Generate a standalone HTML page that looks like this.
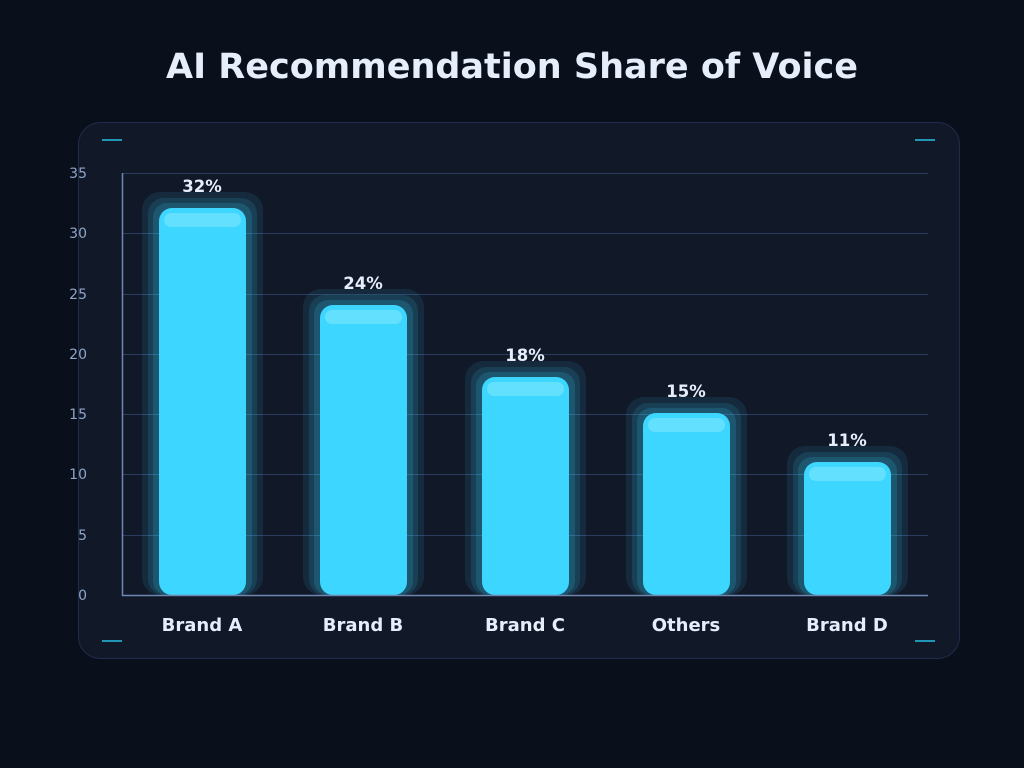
<!DOCTYPE html>
<html><head><meta charset="utf-8"><style>
html,body{margin:0;padding:0;background:#0a0f1c;}
svg{display:block;font-family:"DejaVu Sans","Liberation Sans",sans-serif;}
</style></head><body>
<svg width="1024" height="768" viewBox="0 0 1024 768" xmlns="http://www.w3.org/2000/svg">
<rect width="1024" height="768" fill="#0a0f1c"/>
<text x="512" y="78" text-anchor="middle" font-size="35" font-weight="bold" fill="#e6eefc">AI Recommendation Share of Voice</text>
<rect x="78.5" y="122.5" width="881" height="536" rx="22" fill="#111828" stroke="#1f2d4a" stroke-width="1"/>
<g stroke="#2096b4" stroke-width="2">
<line x1="102" y1="140" x2="122" y2="140"/><line x1="915" y1="140" x2="935" y2="140"/>
<line x1="102" y1="641" x2="122" y2="641"/><line x1="915" y1="641" x2="935" y2="641"/>
</g>
<g stroke="#2a3d5e" stroke-width="1">
<line x1="122" y1="173.5" x2="928" y2="173.5"/>
<line x1="122" y1="233.5" x2="928" y2="233.5"/>
<line x1="122" y1="294.5" x2="928" y2="294.5"/>
<line x1="122" y1="354.5" x2="928" y2="354.5"/>
<line x1="122" y1="414.5" x2="928" y2="414.5"/>
<line x1="122" y1="474.5" x2="928" y2="474.5"/>
<line x1="122" y1="535.5" x2="928" y2="535.5"/>
</g>
<g font-size="14" fill="#8fa6c8" text-anchor="end">
<text x="87" y="178">35</text><text x="87" y="238">30</text><text x="87" y="299">25</text>
<text x="87" y="359">20</text><text x="87" y="419">15</text><text x="87" y="479">10</text>
<text x="87" y="540">5</text><text x="87" y="600">0</text>
</g>
<g fill="#3ad6ff">
<rect x="142" y="192" width="121" height="403" rx="18" fill-opacity="0.10"/>
<rect x="148" y="198" width="109" height="397" rx="16" fill-opacity="0.12"/>
<rect x="153" y="203" width="99" height="392" rx="14" fill-opacity="0.16"/>
<rect x="159" y="208" width="87" height="387" rx="13" fill="#3dd6ff"/>
<rect x="164" y="213" width="77" height="14" rx="7" fill="#7fe6ff" fill-opacity="0.6"/>

<rect x="303" y="289" width="121" height="306" rx="18" fill-opacity="0.10"/>
<rect x="309" y="295" width="109" height="300" rx="16" fill-opacity="0.12"/>
<rect x="314" y="300" width="99" height="295" rx="14" fill-opacity="0.16"/>
<rect x="320" y="305" width="87" height="290" rx="13" fill="#3dd6ff"/>
<rect x="325" y="310" width="77" height="14" rx="7" fill="#7fe6ff" fill-opacity="0.6"/>

<rect x="465" y="361" width="121" height="234" rx="18" fill-opacity="0.10"/>
<rect x="471" y="367" width="109" height="228" rx="16" fill-opacity="0.12"/>
<rect x="476" y="372" width="99" height="223" rx="14" fill-opacity="0.16"/>
<rect x="482" y="377" width="87" height="218" rx="13" fill="#3dd6ff"/>
<rect x="487" y="382" width="77" height="14" rx="7" fill="#7fe6ff" fill-opacity="0.6"/>

<rect x="626" y="397" width="121" height="198" rx="18" fill-opacity="0.10"/>
<rect x="632" y="403" width="109" height="192" rx="16" fill-opacity="0.12"/>
<rect x="637" y="408" width="99" height="187" rx="14" fill-opacity="0.16"/>
<rect x="643" y="413" width="87" height="182" rx="13" fill="#3dd6ff"/>
<rect x="648" y="418" width="77" height="14" rx="7" fill="#7fe6ff" fill-opacity="0.6"/>

<rect x="787" y="446" width="121" height="149" rx="18" fill-opacity="0.10"/>
<rect x="793" y="452" width="109" height="143" rx="16" fill-opacity="0.12"/>
<rect x="798" y="457" width="99" height="138" rx="14" fill-opacity="0.16"/>
<rect x="804" y="462" width="87" height="133" rx="13" fill="#3dd6ff"/>
<rect x="809" y="467" width="77" height="14" rx="7" fill="#7fe6ff" fill-opacity="0.6"/>
</g>
<line x1="122.5" y1="173" x2="122.5" y2="596" stroke="#6f86b0" stroke-width="1.5"/>
<line x1="122" y1="595.5" x2="928" y2="595.5" stroke="#6f86b0" stroke-width="1.5"/>
<g font-size="16.5" font-weight="bold" fill="#e6eefc" text-anchor="middle">
<text x="202" y="192">32%</text><text x="363" y="289">24%</text><text x="525" y="361">18%</text>
<text x="686" y="397">15%</text><text x="847" y="446">11%</text>
</g>
<g font-size="18" font-weight="bold" fill="#e6eefc" text-anchor="middle">
<text x="202" y="631">Brand A</text><text x="363" y="631">Brand B</text><text x="525" y="631">Brand C</text>
<text x="686" y="631">Others</text><text x="847" y="631">Brand D</text>
</g>
</svg>
</body></html>
